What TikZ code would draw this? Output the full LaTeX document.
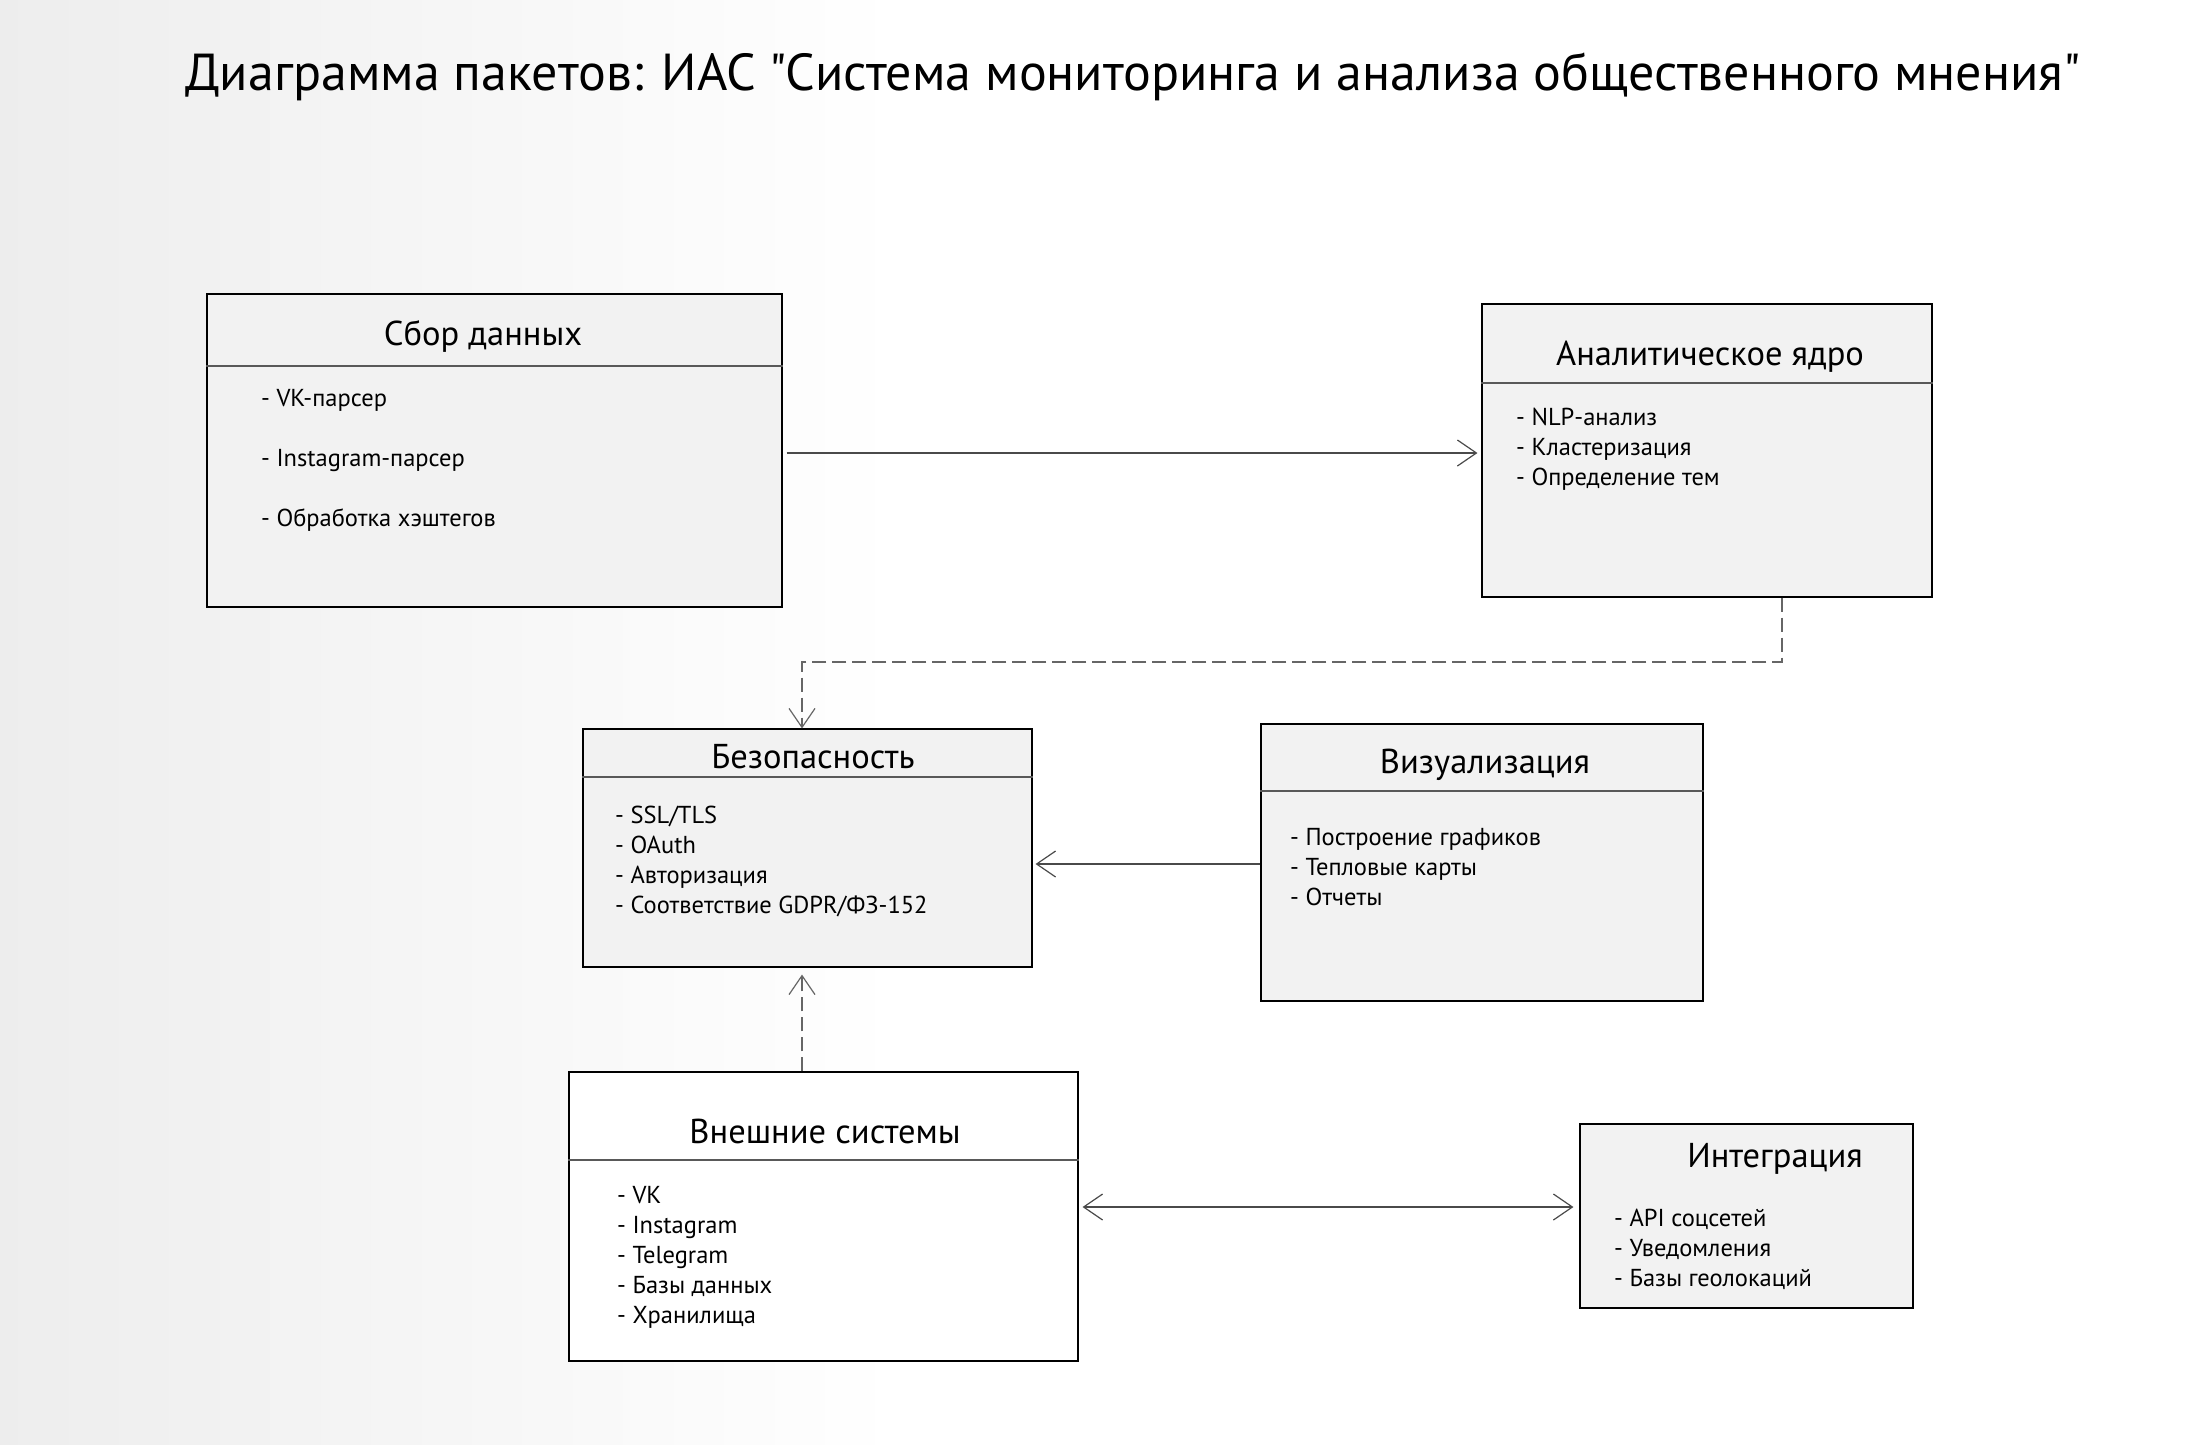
\documentclass[tikz,border=0pt]{standalone}
\usepackage{fontspec}
\setmainfont{PT Sans}[Ligatures=TeXOff]
\usetikzlibrary{arrows.meta}
\definecolor{boxgray}{HTML}{F2F2F2}
\definecolor{linegray}{HTML}{4A4A4A}
\newcommand\pkgItemFont{\fontsize{24.5}{29}\selectfont}
\newcommand\pkgTitleFont{\fontsize{34.5}{40}\selectfont}
\newcommand\diagTitleFont{\fontsize{52}{60}\selectfont}
\begin{document}
\begin{tikzpicture}[x=1pt,y=-1pt,
  pkg/.style={draw=black, line width=1.1pt, fill=boxgray, inner sep=0pt},
  pkgwhite/.style={pkg, fill=white},
  hline/.style={draw=black!65, line width=1.8pt},
  ptitle/.style={anchor=base, inner sep=0pt, font=\pkgTitleFont},
  pitem/.style={anchor=base west, inner sep=0pt, font=\pkgItemFont},
  assoc/.style={draw=linegray, line width=1.3pt, -{Straight Barb[length=19pt,width=26pt,line width=1.2pt]}},
  dep/.style={draw=black!60, line width=1.6pt, dash pattern=on 14pt off 6pt, -{Straight Barb[length=19pt,width=26pt,line width=1.2pt]}},
  bidir/.style={draw=linegray, line width=2pt, {Straight Barb[length=19pt,width=26pt,line width=1.2pt]}-{Straight Barb[length=19pt,width=26pt,line width=1.2pt]}}
]
% background
\useasboundingbox (0,0) rectangle (2198,1444);
\fill[white] (0,0) rectangle (2198,1444);
\shade[left color=black!7, right color=white, shading angle=90] (0,0) rectangle (900,1444);

% title
\node[anchor=base, inner sep=0pt, font=\diagTitleFont] (title) at (1133,90) {Диаграмма пакетов: ИАС "Система мониторинга и анализа общественного мнения"};

% Сбор данных
\node[pkg, minimum width=575pt, minimum height=313pt] (sbor) at (494.5,450.5) {};
\draw[hline] (sbor.west |- 0,366) -- (sbor.east |- 0,366);
\node[ptitle] (sborT) at (483,345) {Сбор данных};
\node[pitem] (sbor1) at (261,406) {- VK-парсер};
\node[pitem] (sbor2) at (261,466) {- Instagram-парсер};
\node[pitem] (sbor3) at (261,526) {- Обработка хэштегов};

% Аналитическое ядро
\node[pkg, minimum width=450pt, minimum height=293pt] (analit) at (1707,450.5) {};
\draw[hline] (analit.west |- 0,383) -- (analit.east |- 0,383);
\node[ptitle] (analitT) at (1710,365) {Аналитическое ядро};
\node[pitem] (analit1) at (1516,425) {- NLP-анализ};
\node[pitem] (analit2) at (1516,455) {- Кластеризация};
\node[pitem] (analit3) at (1516,485) {- Определение тем};

% Безопасность
\node[pkg, minimum width=449pt, minimum height=238pt] (bez) at (807.5,848) {};
\draw[hline] (bez.west |- 0,777) -- (bez.east |- 0,777);
\node[ptitle] (bezT) at (813,768) {Безопасность};
\node[pitem] (bez1) at (615,823) {- SSL/TLS};
\node[pitem] (bez2) at (615,853) {- OAuth};
\node[pitem] (bez3) at (615,883) {- Авторизация};
\node[pitem] (bez4) at (615,913) {- Соответствие GDPR/ФЗ-152};

% Визуализация
\node[pkg, minimum width=442pt, minimum height=277pt] (viz) at (1482,862.5) {};
\draw[hline] (viz.west |- 0,791) -- (viz.east |- 0,791);
\node[ptitle] (vizT) at (1485,773) {Визуализация};
\node[pitem] (viz1) at (1290,845) {- Построение графиков};
\node[pitem] (viz2) at (1290,875) {- Тепловые карты};
\node[pitem] (viz3) at (1290,905) {- Отчеты};

% Внешние системы
\node[pkgwhite, minimum width=509pt, minimum height=289pt] (vnesh) at (823.5,1216.5) {};
\draw[hline] (vnesh.west |- 0,1160) -- (vnesh.east |- 0,1160);
\node[ptitle] (vneshT) at (825,1143) {Внешние системы};
\node[pitem] (vnesh1) at (617,1203) {- VK};
\node[pitem] (vnesh2) at (617,1233) {- Instagram};
\node[pitem] (vnesh3) at (617,1263) {- Telegram};
\node[pitem] (vnesh4) at (617,1293) {- Базы данных};
\node[pitem] (vnesh5) at (617,1323) {- Хранилища};

% Интеграция
\node[pkg, minimum width=333pt, minimum height=184pt] (integ) at (1746.5,1216) {};
\node[ptitle] (integT) at (1775,1167) {Интеграция};
\node[pitem] (integ1) at (1614,1226) {- API соцсетей};
\node[pitem] (integ2) at (1614,1256) {- Уведомления};
\node[pitem] (integ3) at (1614,1286) {- Базы геолокаций};

% connectors
\coordinate (c1) at (1782,662);
\coordinate (c2) at (802,662);
\coordinate (c3) at (0,1207);
\coordinate (c4) at (0,453);
\coordinate (c5) at (0,864);

\draw[assoc, shorten <=4pt, shorten >=4pt] (sbor.east |- c4) -- (analit.west |- c4);
\draw[dep] (c1 |- analit.south) -- (c1) -- (c2) -- (c2 |- bez.north);
\draw[dep, shorten >=7pt] (c2 |- vnesh.north) -- (c2 |- bez.south);
\draw[assoc, shorten >=3pt] (viz.west |- c5) -- (bez.east |- c5);
\draw[bidir, shorten <=4pt, shorten >=6pt] (vnesh.east |- c3) -- (integ.west |- c3);
\end{tikzpicture}
\end{document}
